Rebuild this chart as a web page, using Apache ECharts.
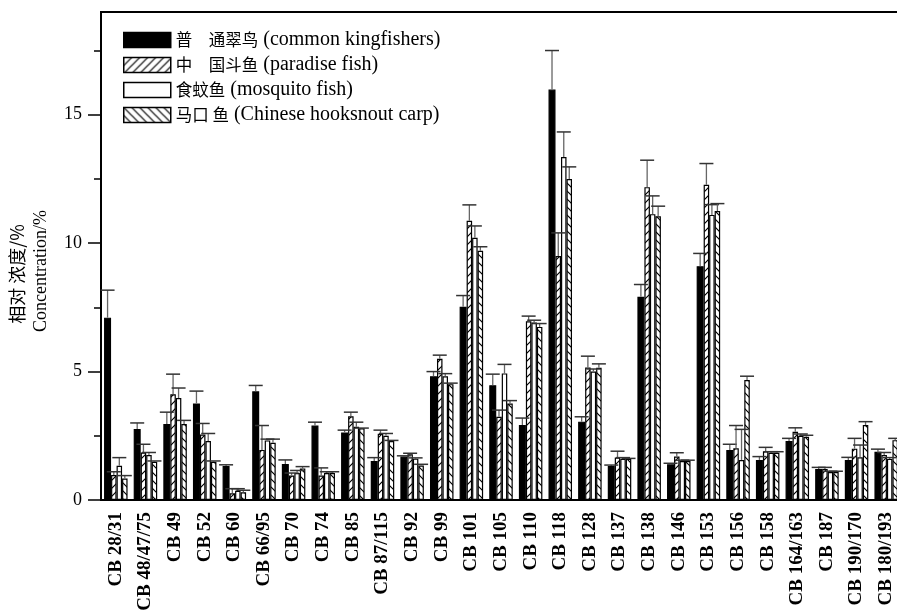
<!DOCTYPE html>
<html>
<head>
<meta charset="utf-8">
<script src="https://cdn.jsdelivr.net/npm/echarts@6/dist/echarts.min.js"></script>
<style>html,body{margin:0;padding:0;background:#fff;}#c{width:897px;height:614px;}</style>
</head>
<body>
<div id="c"></div>
<script>
const categories = ['CB 28/31','CB 48/47/75','CB 49','CB 52','CB 60','CB 66/95','CB 70','CB 74','CB 85','CB 87/115','CB 92','CB 99','CB 101','CB 105','CB 110','CB 118','CB 128','CB 137','CB 138','CB 146','CB 153','CB 156','CB 158','CB 164/163','CB 187','CB 190/170','CB 180/193'];
const seriesCn = ['普　通翠鸟','中　国斗鱼','食蚊鱼','马口 鱼'];
const seriesEn = ['(common kingfishers)','(paradise fish)','(mosquito fish)','(Chinese hooksnout carp)'];
const kingfisher    = [7.10,2.76,2.96,3.76,1.32,4.23,1.40,2.90,2.63,1.52,1.69,4.82,7.52,4.47,2.92,15.98,3.05,1.32,7.91,1.39,9.10,1.95,1.56,2.30,1.21,1.56,1.88];
const kingfisherErr = [8.17,3.00,3.42,4.24,1.37,4.46,1.56,3.03,2.72,1.65,1.72,5.00,7.96,4.90,3.19,17.50,3.24,1.36,8.39,1.43,9.60,2.17,1.69,2.40,1.27,1.66,1.98];
const paradise      = [0.97,1.85,4.12,2.55,0.26,1.95,0.95,0.95,3.26,2.58,1.78,5.50,10.87,3.24,6.96,9.50,5.16,1.65,12.18,1.69,12.27,2.01,1.90,2.66,1.21,2.00,1.75];
const paradiseErr   = [1.10,2.17,4.90,2.98,0.44,2.90,1.05,1.25,3.42,2.72,1.82,5.64,11.49,3.50,7.16,10.40,5.60,1.90,13.23,1.84,13.10,2.90,2.05,2.81,1.27,2.40,1.85];
const mosquito      = [1.33,1.75,3.97,2.30,0.36,2.32,1.05,1.05,2.85,2.50,1.61,4.82,10.21,4.93,6.91,13.35,5.00,1.60,11.13,1.52,11.10,1.56,1.84,2.50,1.09,1.66,1.60];
const mosquitoErr   = [1.65,1.85,4.36,2.59,0.44,2.37,1.15,1.10,3.03,2.59,1.64,4.92,10.67,5.28,7.00,14.33,5.10,1.65,11.84,1.55,11.50,2.75,1.88,2.57,1.12,2.14,1.65];
const hooksnout     = [0.84,1.49,2.96,1.49,0.30,2.23,1.23,1.05,2.79,2.30,1.34,4.51,9.70,3.76,6.74,12.50,5.15,1.60,11.05,1.52,11.25,4.67,1.84,2.46,1.09,2.92,2.33];
const hooksnoutErr  = [0.95,1.52,3.10,1.52,0.38,2.37,1.30,1.10,2.80,2.32,1.39,4.55,9.86,3.87,6.87,12.97,5.30,1.62,11.44,1.55,11.54,4.82,1.88,2.52,1.12,3.05,2.40];
const yMajorTicks = [0,5,10,15];
const yMinorTicks = [2.5,7.5,12.5,17.5];

const seriesNames = seriesCn.map((c,i)=>c + ' ' + seriesEn[i]);
const values = [kingfisher, paradise, mosquito, hooksnout];
const errTops = [kingfisherErr, paradiseErr, mosquitoErr, hooksnoutErr];

const serif = '"Liberation Serif","Times New Roman","Noto Sans CJK SC",serif';
const barWidths = [7, 5.5, 5.5, 5.5];
const totalW = barWidths.reduce((a,b)=>a+b,0);
const offsets = [];
{ let acc = -totalW/2; for (const w of barWidths){ offsets.push(acc + w/2); acc += w; } }

function hatch(dir){
  const s = 8, c = document.createElement('canvas');
  c.width = s; c.height = s;
  const g = c.getContext('2d');
  g.fillStyle = '#fff'; g.fillRect(0,0,s,s);
  g.strokeStyle = '#000'; g.lineWidth = 1.2; g.beginPath();
  if (dir > 0){
    g.moveTo(-1,s+1); g.lineTo(s+1,-1);
    g.moveTo(-1,1); g.lineTo(1,-1);
    g.moveTo(s-1,s+1); g.lineTo(s+1,s-1);
  } else {
    g.moveTo(-1,-1); g.lineTo(s+1,s+1);
    g.moveTo(s-1,-1); g.lineTo(s+1,1);
    g.moveTo(-1,s-1); g.lineTo(1,s+1);
  }
  g.stroke();
  return c;
}
const fills = ['#000', {image: hatch(1), repeat:'repeat'}, '#fff', {image: hatch(-1), repeat:'repeat'}];

const series = [];
for (let s = 0; s < 4; s++){
  series.push({
    name: seriesNames[s], type:'bar', xAxisIndex:0, yAxisIndex:0,
    barWidth: barWidths[s], barGap:'0%', barCategoryGap:'20%',
    itemStyle:{color: fills[s], borderColor:'#000', borderWidth:1.2},
    emphasis:{disabled:true},
    data: values[s]
  });
}
for (let s = 0; s < 4; s++){
  const off = offsets[s];
  series.push({
    type:'custom', xAxisIndex:0, yAxisIndex:0, z:5, silent:true,
    encode:{x:0, y:[1,2]},
    renderItem(params, api){
      const i = api.value(0);
      const base = api.coord([i, api.value(1)]);
      const top = api.coord([i, api.value(2)]);
      const x = base[0] + off;
      return {type:'group', children:[
        {type:'line', shape:{x1:x, y1:base[1], x2:x, y2:top[1]}, style:{stroke:'#666', lineWidth:1.3}},
        {type:'line', shape:{x1:x-7, y1:top[1], x2:x+7, y2:top[1]}, style:{stroke:'#333', lineWidth:1.5}}
      ]};
    },
    data: values[s].map((v,i)=>[i, v, errTops[s][i]])
  });
}

const chart = echarts.init(document.getElementById('c'), null, {renderer:'canvas'});
chart.setOption({
  animation:false,
  backgroundColor:'#fff',
  grid:{left:101, top:12, width:800, height:488, outerBoundsMode:'none', containLabel:false,
        show:true, borderColor:'#000', borderWidth:2, backgroundColor:'transparent'},
  legend:{
    show:true, orient:'vertical', left:123, top:30, padding:0, icon:'rect',
    itemWidth:47, itemHeight:15, itemGap:5,
    itemStyle:{borderColor:'#000', borderWidth:1.5},
    formatter: function(name){
      const i = seriesNames.indexOf(name);
      return '{c|' + seriesCn[i] + '}{e| ' + seriesEn[i] + '}';
    },
    textStyle:{
      color:'#000', fontSize:20, fontFamily:serif,
      rich:{
        c:{fontSize:16.5, fontFamily:'"Noto Sans CJK SC", sans-serif', color:'#000'},
        e:{fontSize:20, fontFamily:serif, color:'#000'}
      }
    },
    data: seriesNames
  },
  xAxis:[
    {type:'category', data:categories, position:'bottom',
     axisLine:{lineStyle:{color:'#000', width:2}},
     axisTick:{alignWithLabel:true, length:9, lineStyle:{color:'#000', width:1.5}},
     axisLabel:{interval:0, rotate:90, margin:12, fontSize:19, fontWeight:'bold', fontFamily:serif, color:'#000'},
     splitLine:{show:false}},
    {type:'category', data:categories, position:'bottom',
     axisLine:{show:false},
     axisTick:{length:5, lineStyle:{color:'#000', width:1.5}},
     axisLabel:{show:false}, splitLine:{show:false}}
  ],
  yAxis:[
    {type:'value', min:0, max:19, position:'left',
     axisLine:{show:true, lineStyle:{color:'#000', width:2}},
     axisTick:{show:true, customValues:yMajorTicks, length:13, lineStyle:{color:'#000', width:1.5}},
     axisLabel:{customValues:yMajorTicks, margin:19, fontSize:18, fontFamily:serif, color:'#000'},
     splitLine:{show:false}},
    {type:'value', min:0, max:19, position:'left',
     axisLine:{show:false},
     axisTick:{show:true, customValues:yMinorTicks, length:7, lineStyle:{color:'#000', width:1.5}},
     axisLabel:{show:false}, splitLine:{show:false}}
  ],
  graphic:[
    {type:'text', x:17, y:274, rotation:Math.PI/2,
     style:{text:'相对 浓度/%', font:'18px "Noto Sans CJK SC", sans-serif', fill:'#000', align:'center', verticalAlign:'middle'}},
    {type:'text', x:41, y:271, rotation:Math.PI/2,
     style:{text:'Concentration/%', font:'18px "Liberation Serif", serif', fill:'#000', align:'center', verticalAlign:'middle'}}
  ],
  series: series
});
</script>
</body>
</html>
